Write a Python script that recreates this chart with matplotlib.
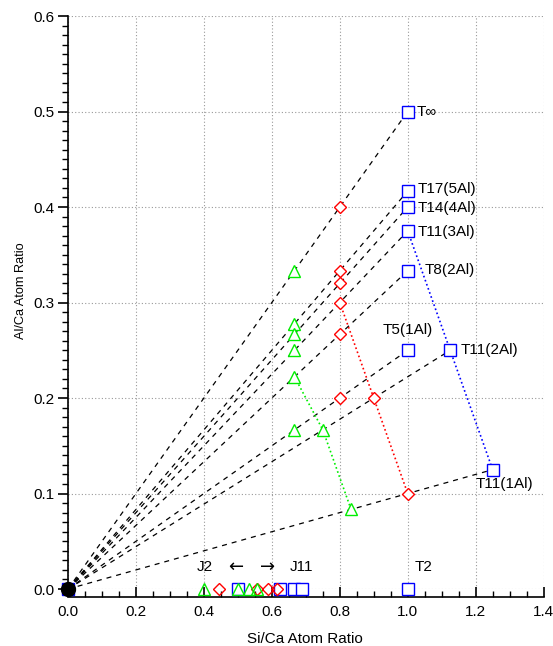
import matplotlib
matplotlib.use("Agg")
import matplotlib.pyplot as plt
from matplotlib.ticker import MultipleLocator, FormatStrFormatter

plt.rcParams['font.family'] = ['Liberation Sans', 'DejaVu Sans']

# Blue squares: T-series end members
t_x = [1.0, 1.0, 1.0, 1.0, 1.0, 1.0, 1.125, 1.25]
t_y = [0.5, 0.4167, 0.4, 0.375, 0.3333, 0.25, 0.25, 0.125]
t_labels = ["T\u221e", "T17(5Al)", "T14(4Al)", "T11(3Al)", "T8(2Al)", "T5(1Al)", "T11(2Al)", "T11(1Al)"]
# blue dotted chain
tb_x = [1.0, 1.125, 1.25]
tb_y = [0.375, 0.25, 0.125]

# Red diamonds
r_x = [0.8, 0.8, 0.8, 0.8, 0.8, 0.8, 0.9, 1.0]
r_y = [0.4, 0.3333, 0.32, 0.3, 0.2667, 0.2, 0.2, 0.1]
rc_x = [0.8, 0.9, 1.0]
rc_y = [0.3, 0.2, 0.1]

# Green triangles
g_x = [0.6667, 0.6667, 0.6667, 0.6667, 0.6667, 0.6667, 0.75, 0.8333]
g_y = [0.3333, 0.2778, 0.2667, 0.25, 0.2222, 0.1667, 0.1667, 0.0833]
gc_x = [0.6667, 0.75, 0.8333]
gc_y = [0.2222, 0.1667, 0.0833]

# Points on the x axis (Al/Ca = 0)
g0_x = [0.4, 0.5, 0.5333, 0.5556]
r0_x = [0.4444, 0.5556, 0.59, 0.6154]
b0_x = [0.0, 0.5, 0.625, 0.6667, 0.6875, 1.0]

BLUE = '#0000ff'
RED = '#ff0000'
GREEN = '#00ee00'

fig = plt.figure(figsize=(5.53, 6.46), dpi=100)
ax = fig.add_axes([0.123, 0.0882, 0.860, 0.887])

# dashed lines from origin
for x, y in zip(t_x, t_y):
    ax.plot([0, x], [0, y], color='black', ls=(0, (4, 4)), lw=0.9, zorder=2)

ax.plot(tb_x, tb_y, color=BLUE, ls=(0, (1, 1.6)), lw=1.2, zorder=2)
ax.plot(rc_x, rc_y, color=RED, ls=(0, (1, 1.6)), lw=1.2, zorder=2)
ax.plot(gc_x, gc_y, color=GREEN, ls=(0, (1, 1.6)), lw=1.2, zorder=2)

ms = 8
ax.plot(t_x, t_y, 's', mfc='white', mec=BLUE, ms=ms, mew=1.0, zorder=3, clip_on=False)
ax.plot(r_x, r_y, 'D', mfc='white', mec=RED, ms=6, mew=1.0, zorder=3, clip_on=False)
ax.plot(g_x, g_y, '^', mfc='white', mec=GREEN, ms=ms, mew=1.0, zorder=3, clip_on=False)

ax.plot(b0_x, [0]*len(b0_x), 's', mfc='white', mec=BLUE, ms=ms, mew=1.0, zorder=3, clip_on=False)
ax.plot(r0_x, [0]*len(r0_x), 'D', mfc='none', mec=RED, ms=6, mew=1.0, zorder=3, clip_on=False)
ax.plot(g0_x, [0]*len(g0_x), '^', mfc='none', mec=GREEN, ms=ms, mew=1.0, zorder=3, clip_on=False)
ax.plot([0], [0], 'o', color='black', ms=10, zorder=4, clip_on=False)

fs = 11
# labels
ax.text(1.025, 0.5, t_labels[0], fontsize=fs, va='center', ha='left')
ax.text(1.03, 0.419, t_labels[1], fontsize=fs, va='center', ha='left')
ax.text(1.03, 0.399, t_labels[2], fontsize=fs, va='center', ha='left')
ax.text(1.03, 0.374, t_labels[3], fontsize=fs, va='center', ha='left')
ax.text(1.05, 0.334, t_labels[4], fontsize=fs, va='center', ha='left')
ax.text(1.0, 0.271, t_labels[5], fontsize=fs, va='center', ha='center')
ax.text(1.155, 0.25, t_labels[6], fontsize=fs, va='center', ha='left')
ax.text(1.2, 0.11, t_labels[7], fontsize=fs, va='center', ha='left')
ax.text(0.402, 0.0235, "J2", fontsize=fs, va='center', ha='center')
ax.text(0.495, 0.0235, "\u2190", fontsize=13, va='center', ha='center', family='DejaVu Sans')
ax.text(0.587, 0.0235, "\u2192", fontsize=13, va='center', ha='center', family='DejaVu Sans')
ax.text(0.686, 0.0235, "J11", fontsize=fs, va='center', ha='center')
ax.text(1.048, 0.0235, "T2", fontsize=fs, va='center', ha='center')

ax.set_xlim(0, 1.4)
ax.set_ylim(0, 0.6)
ax.xaxis.set_major_locator(MultipleLocator(0.2))
ax.xaxis.set_minor_locator(MultipleLocator(0.05))
ax.yaxis.set_major_locator(MultipleLocator(0.1))
ax.yaxis.set_minor_locator(MultipleLocator(0.01))
ax.xaxis.set_major_formatter(FormatStrFormatter('%.1f'))
ax.yaxis.set_major_formatter(FormatStrFormatter('%.1f'))

ax.spines['top'].set_visible(False)
ax.spines['right'].set_visible(False)
ax.spines['bottom'].set_position(('outward', 5.8))
ax.spines['bottom'].set_linewidth(1.2)
ax.spines['left'].set_linewidth(1.2)

ax.tick_params(axis='x', which='major', direction='in', length=7, width=1.2, labelsize=fs, pad=6)
ax.tick_params(axis='x', which='minor', direction='in', length=4, width=1.0)
ax.tick_params(axis='y', which='major', direction='out', length=7, width=1.2, labelsize=fs, pad=3)
ax.tick_params(axis='y', which='minor', direction='out', length=4, width=1.0)

ax.grid(True, which='major', color='#999999', ls=(0, (1, 2)), lw=0.8, zorder=0)
ax.set_axisbelow(True)

ax.set_xlabel("Si/Ca Atom Ratio", fontsize=fs)
ax.set_ylabel("Al/Ca Atom Ratio", fontsize=9.2)
ax.xaxis.set_label_coords(0.497, -0.075)
ax.yaxis.set_label_coords(-0.086, 0.52)

fig.savefig("out.png", dpi=100)
